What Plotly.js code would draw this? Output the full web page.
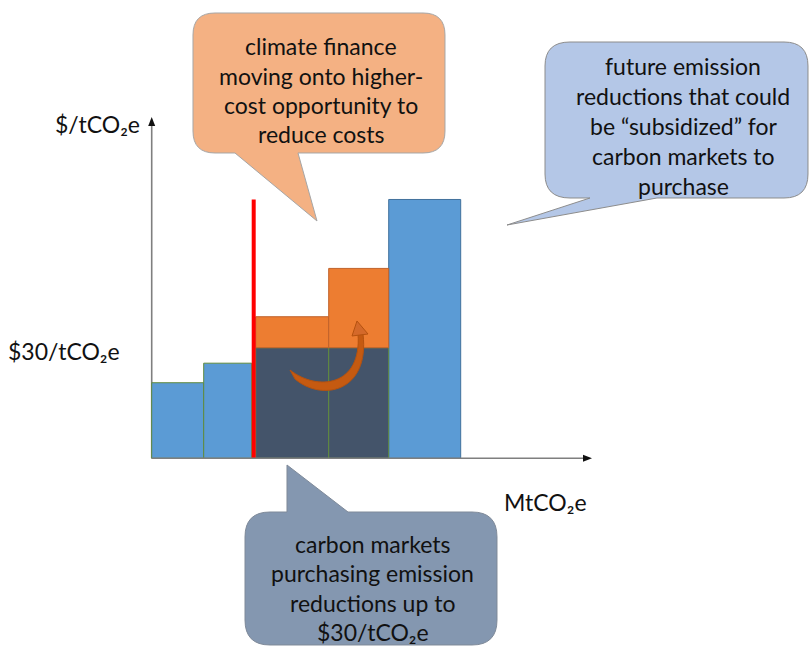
<!DOCTYPE html>
<html>
<head>
<meta charset="utf-8">
<script src="https://cdn.plot.ly/plotly-3.0.1.min.js"></script>
<style>html,body{margin:0;padding:0;background:#fff;}#chart{width:810px;height:646px;}</style>
</head>
<body>
<div id="chart"></div>
<script>
// ---- data (abatement cost curve, arbitrary MtCO2e units on x, $/tCO2e on y) ----
const segments   = ['A', 'B', 'C', 'D', 'E'];
const segStart   = [0, 5.2, 10.4, 17.7, 23.7];
const segWidth   = [5.2, 4.8, 7.3, 6.0, 7.2];
const segCost    = [20.5, 25.8, 38.4, 51.5, 70.2];
const carbonPrice = 30;
const capX = [10.2, 10.2];
const capY = [0, 70.2];
const blueIdx = [0, 1, 4];
const shiftedIdx = [2, 3];

const labelY = '$/tCO\u2082e';
const labelPrice = '$30/tCO\u2082e';
const labelX = 'MtCO\u2082e';
const calloutOrange = ['climate finance', 'moving onto higher-', 'cost opportunity to', 'reduce costs'];
const calloutBlue = ['future emission', 'reductions that could', 'be \u201csubsidized\u201d for', 'carbon markets to', 'purchase'];
const calloutDark = ['carbon markets', 'purchasing emission', 'reductions up to', '$30/tCO\u2082e'];

// ---- geometry helpers ----
const W = 810, H = 646;
const X0 = 151.7, Y0 = 458.3, PXU = 10, PYU = 3.687;
const xRange = [-X0 / PXU, (W - X0) / PXU];
const yRange = [-(H - Y0) / PYU, Y0 / PYU];
const px = x => x / W;
const py = y => 1 - y / H;
const pathPx = s => s.replace(/(-?\d+\.?\d*),(-?\d+\.?\d*)/g, (m, a, b) => px(+a).toFixed(5) + ',' + py(+b).toFixed(5));

const centers = i => segStart[i] + segWidth[i] / 2;

const traces = [
  {
    type: 'bar', name: 'low cost',
    x: blueIdx.map(centers), width: blueIdx.map(i => segWidth[i]),
    y: blueIdx.map(i => segCost[i]), base: 0,
    marker: {color: '#5b9bd5', line: {color: ['#5f8a3e', '#5f8a3e', '#41719c'], width: 1}},
    hoverinfo: 'skip'
  },
  {
    type: 'bar', name: 'market',
    x: shiftedIdx.map(centers), width: shiftedIdx.map(i => segWidth[i]),
    y: shiftedIdx.map(i => Math.min(segCost[i], carbonPrice)), base: 0,
    marker: {color: '#44546a', line: {color: '#5f8a3e', width: 1}},
    hoverinfo: 'skip'
  },
  {
    type: 'bar', name: 'finance',
    x: shiftedIdx.map(centers), width: shiftedIdx.map(i => segWidth[i]),
    y: shiftedIdx.map(i => segCost[i] - carbonPrice), base: carbonPrice,
    marker: {color: '#ed7d31', line: {color: '#c0622a', width: 1}},
    hoverinfo: 'skip'
  },
  {
    type: 'scatter', mode: 'lines', x: capX, y: capY,
    line: {color: '#ff0000', width: 4}, hoverinfo: 'skip'
  }
];

const FONT = 'Lato, "Noto Sans", sans-serif';
const annotations = [];
function lines(arr, cx, y0, dy, size) {
  arr.forEach((t, k) => annotations.push({
    xref: 'paper', yref: 'paper', x: px(cx), y: py(y0 + k * dy),
    xanchor: 'center', yanchor: 'middle', showarrow: false, text: t,
    font: {family: FONT, size: size, color: '#111'}
  }));
}
lines(calloutOrange, 321, 46, 29.5, 23);
lines(calloutBlue, 683, 66, 30, 23);
lines(calloutDark, 372.5, 544, 29.3, 23);
lines([labelY], 97, 124, 0, 23);
lines([labelPrice], 64, 351, 0, 23);
lines([labelX], 545, 502, 0, 23);

const shapes = [
  // orange callout
  {type: 'path', xref: 'paper', yref: 'paper', layer: 'above',
   path: pathPx('M 215,13 L 423,13 Q 445,13 445,35 L 445,131 Q 445,153 423,153 L 298,153 L 317,221 L 235,153 L 215,153 Q 193,153 193,131 L 193,35 Q 193,13 215,13 Z'),
   fillcolor: '#f4b183', line: {color: '#a6a6a6', width: 1}},
  // blue callout
  {type: 'path', xref: 'paper', yref: 'paper', layer: 'above',
   path: pathPx('M 570,42 L 784,42 Q 808,42 808,66 L 808,174 Q 808,198 784,198 L 657,198 L 507,225 L 590,198 L 570,198 Q 545,198 545,174 L 545,66 Q 545,42 570,42 Z'),
   fillcolor: '#b4c7e7', line: {color: '#8c8c8c', width: 1}},
  // dark callout
  {type: 'path', xref: 'paper', yref: 'paper', layer: 'above',
   path: pathPx('M 270,512 L 287,512 L 287,465 L 348,512 L 472,512 Q 497,512 497,537 L 497,620 Q 497,645 472,645 L 270,645 Q 245,645 245,620 L 245,537 Q 245,512 270,512 Z'),
   fillcolor: '#8497b0', line: {color: '#7f8a99', width: 1}},
  // curved arrow (tapered body)
  {type: 'path', xref: 'paper', yref: 'paper', layer: 'above',
   path: pathPx('M 290,370 C 318,392 362,386 358,334 L 363,334 C 370,392 322,402 295,379 Z'),
   fillcolor: '#c55a11', line: {color: '#b5520f', width: 1}},
  {type: 'path', xref: 'paper', yref: 'paper', layer: 'above',
   path: pathPx('M 357,321 L 368,334 L 352,336 Z'),
   fillcolor: '#d4692a', line: {color: '#b5520f', width: 1}},
  // axes
  {type: 'line', xref: 'x', yref: 'y', x0: 0, y0: 0, x1: 0, y1: (Y0 - 124) / PYU,
   line: {color: '#7f7f7f', width: 1.6}, layer: 'below'},
  {type: 'line', xref: 'x', yref: 'y', x0: 0, y0: 0, x1: (584 - X0) / PXU, y1: 0,
   line: {color: '#7f7f7f', width: 1.6}, layer: 'above'},
  // arrowheads
  {type: 'path', xref: 'paper', yref: 'paper', layer: 'above',
   path: pathPx('M 151.7,117 L 155.2,126 L 148.2,126 Z'),
   fillcolor: '#111', line: {width: 0}},
  {type: 'path', xref: 'paper', yref: 'paper', layer: 'above',
   path: pathPx('M 592,458.3 L 583,454.8 L 583,461.8 Z'),
   fillcolor: '#111', line: {width: 0}}
];

const layout = {
  width: W, height: H,
  margin: {l: 0, r: 0, t: 0, b: 0, pad: 0},
  paper_bgcolor: '#fff', plot_bgcolor: '#fff',
  showlegend: false, barmode: 'overlay', bargap: 0,
  xaxis: {range: xRange, visible: false, fixedrange: true},
  yaxis: {range: yRange, visible: false, fixedrange: true},
  annotations: annotations, shapes: shapes
};

Plotly.newPlot('chart', traces, layout, {staticPlot: true, displayModeBar: false});
</script>
</body>
</html>
